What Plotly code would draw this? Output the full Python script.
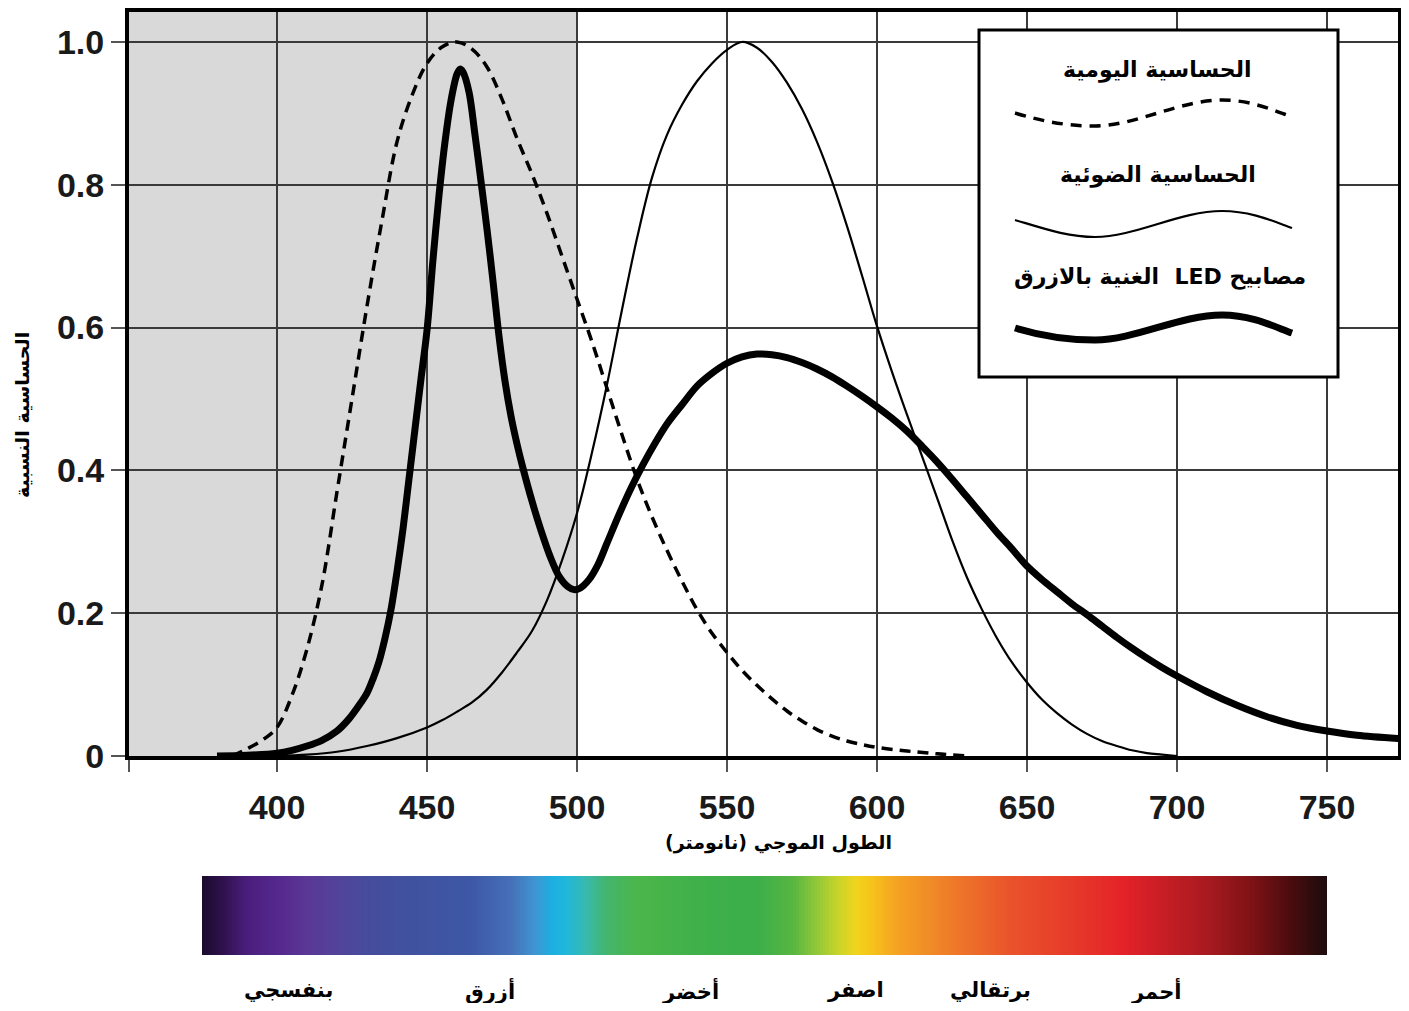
import numpy as np
import plotly.graph_objects as go

# ---------------- data ----------------
# "Daily sensitivity" (dashed)
wl_dash = [385, 390, 395, 400, 405, 410, 415, 420, 425, 430, 435, 440, 445, 450, 455, 460,
           465, 470, 475, 480, 485, 490, 495, 500, 505, 510, 515, 520, 525, 530, 535, 540,
           545, 550, 555, 560, 565, 570, 575, 580, 585, 590, 595, 600, 610, 620, 630]
val_dash = [0.0, 0.01, 0.022, 0.04, 0.085, 0.15, 0.24, 0.37, 0.50, 0.63, 0.75, 0.86,
            0.925, 0.97, 0.993, 1.0, 0.99, 0.965, 0.92, 0.865, 0.815, 0.76, 0.70, 0.64,
            0.58, 0.515, 0.45, 0.388, 0.335, 0.288, 0.245, 0.205, 0.172, 0.145, 0.12, 0.099,
            0.08, 0.063, 0.049, 0.037, 0.028, 0.021, 0.016, 0.012, 0.007, 0.003, 0.0]

# Photopic sensitivity (thin)
wl_thin = [400, 410, 420, 430, 440, 450, 455, 460, 465, 470, 475, 480, 485, 490, 495, 500,
           505, 510, 515, 520, 525, 530, 535, 540, 545, 550, 555, 560, 565, 570, 575, 580,
           585, 590, 595, 600, 605, 610, 615, 620, 625, 630, 635, 640, 645, 650, 655, 660,
           665, 670, 675, 680, 685, 690, 695, 700]
val_thin = [0.0, 0.002, 0.006, 0.014, 0.025, 0.04, 0.05, 0.062, 0.075, 0.093, 0.117, 0.145,
            0.175, 0.218, 0.274, 0.34, 0.425, 0.52, 0.625, 0.725, 0.81, 0.87, 0.912, 0.945,
            0.97, 0.989, 1.0, 0.992, 0.972, 0.943, 0.906, 0.86, 0.805, 0.742, 0.673, 0.602,
            0.538, 0.478, 0.42, 0.362, 0.303, 0.25, 0.205, 0.165, 0.131, 0.103, 0.079, 0.06,
            0.044, 0.031, 0.021, 0.014, 0.008, 0.004, 0.002, 0.0]

# Blue-rich LED spectrum (thick)
wl_led = [380, 390, 400, 405, 410, 415, 420, 424, 428, 430, 432, 434, 436, 438, 440, 442,
          444, 446, 448, 450, 452, 454, 456, 458, 460, 461, 462, 464, 466, 468, 470, 472,
          474, 476, 478, 480, 482, 485, 488, 491, 494, 497, 499, 501, 504, 507, 510, 514,
          518, 522, 526, 530, 535, 540, 545, 550, 555, 560, 565, 570, 575, 580, 585, 590,
          595, 600, 605, 610, 615, 620, 625, 630, 635, 640, 645, 650, 655, 660, 665, 670,
          675, 680, 685, 690, 695, 700, 710, 720, 730, 740, 750, 760, 775]
val_led = [0.0, 0.001, 0.004, 0.008, 0.014, 0.022, 0.035, 0.052, 0.075, 0.088, 0.108, 0.132,
           0.165, 0.205, 0.258, 0.318, 0.388, 0.458, 0.528, 0.596, 0.695, 0.785, 0.86, 0.918,
           0.955, 0.962, 0.958, 0.93, 0.87, 0.805, 0.738, 0.665, 0.588, 0.525, 0.476, 0.437,
           0.403, 0.357, 0.316, 0.28, 0.252, 0.237, 0.233, 0.235, 0.247, 0.268, 0.298, 0.338,
           0.375, 0.408, 0.438, 0.465, 0.492, 0.518, 0.536, 0.55, 0.559, 0.563, 0.562, 0.558,
           0.551, 0.542, 0.531, 0.518, 0.504, 0.489, 0.473, 0.455, 0.434, 0.412, 0.388, 0.363,
           0.338, 0.313, 0.29, 0.266, 0.247, 0.23, 0.213, 0.198, 0.182, 0.166, 0.151, 0.137,
           0.124, 0.112, 0.09, 0.071, 0.055, 0.043, 0.035, 0.029, 0.024]

x_range = [350.67, 773.67]
y_range = [0, 1.042]
x_ticks = [350.67, 400, 450, 500, 550, 600, 650, 700, 750]
x_tick_text = ["", "400", "450", "500", "550", "600", "650", "700", "750"]
y_ticks = [0, 0.2, 0.4, 0.6, 0.8, 1.0]
y_tick_text = ["0", "0.2", "0.4", "0.6", "0.8", "1.0"]

shade_range = [350.67, 500]

# spectrum colour bar (wavelength stops, colours)
spec_wl = [375, 381, 390, 400, 410, 420, 430, 445, 465, 478, 486, 492, 497, 503, 510, 520,
           540, 560, 572, 580, 587, 593, 598, 606, 618, 630, 645, 665, 682, 695, 710, 725,
           738, 750]
spec_col = ["#1a0a2c", "#2c1048", "#4a1e7c", "#55278e", "#5a3796", "#534399", "#464c9c",
            "#3f52a0", "#3e58a6", "#4670b8", "#3f95d2", "#1bb0e2", "#22b8d8", "#38b9ad",
            "#44b56c", "#4bb64a", "#3fb04a", "#3cae4a", "#58b642", "#92c838", "#c8d42a",
            "#f0d41c", "#f6c41a", "#f5a422", "#f08a28", "#ed702a", "#e9522b", "#e63a2a",
            "#e42228", "#c81e25", "#a81a20", "#7e1216", "#4a0c0e", "#1c0c0e"]

color_names = ["بنفسجي", "أزرق", "أخضر", "اصفر", "برتقالي", "أحمر"]
color_name_wl = [404, 471, 538, 593, 638, 693]

legend_names = ["الحساسية اليومية", "الحساسية الضوئية", "مصابيح LED  الغنية بالازرق"]
x_title = "الطول الموجي (نانومتر)"
y_title = "الحساسية النسبية"

# ---------------- layout helpers ----------------
# The page body has an 8px margin, so the figure is laid out in window pixels minus 8.
OFF = 8
FIG_W, FIG_H = 1393, 995
M_L, M_R, M_T, M_B = 121, 3, 4, 12
PW = FIG_W - M_L - M_R
PH = FIG_H - M_T - M_B


def px(wx):
    return (wx - OFF - M_L) / PW


def py(wy):
    return (FIG_H - M_B - (wy - OFF)) / PH


RLE, PDF = "\u202b", "\u202c"


def rtl(s):
    return RLE + s + PDF


AR_FONT = "DejaVu Sans"
NUM_FONT = "Liberation Sans"

fig = go.Figure()

fig.add_trace(go.Scatter(x=wl_dash, y=val_dash, mode="lines",
                         line=dict(color="black", width=3.5, dash="11px,7px", shape="spline", smoothing=1.0),
                         showlegend=False, hoverinfo="skip"))
fig.add_trace(go.Scatter(x=wl_thin, y=val_thin, mode="lines",
                         line=dict(color="black", width=2.2, shape="spline", smoothing=1.0),
                         showlegend=False, hoverinfo="skip"))
fig.add_trace(go.Scatter(x=wl_led, y=val_led, mode="lines",
                         line=dict(color="black", width=7, shape="spline", smoothing=0.9),
                         showlegend=False, hoverinfo="skip"))

# spectrum bar as heatmap on its own axes
lo, hi = spec_wl[0], spec_wl[-1]
edges = np.arange(lo, hi + 1, 1)
mids = (edges[:-1] + edges[1:]) / 2
cscale = [[(w - lo) / (hi - lo), c] for w, c in zip(spec_wl, spec_col)]
fig.add_trace(go.Heatmap(x=edges, y=[0, 1], z=[mids], colorscale=cscale, zmin=lo, zmax=hi,
                         showscale=False, xaxis="x2", yaxis="y2", hoverinfo="skip"))

main_y_bottom = py(756)

fig.update_layout(
    width=FIG_W, height=FIG_H,
    margin=dict(l=M_L, r=M_R, t=M_T, b=M_B, autoexpand=False),
    paper_bgcolor="white", plot_bgcolor="white",
    showlegend=False,
    xaxis=dict(range=x_range, tickvals=x_ticks, ticktext=x_tick_text, automargin=False,
               showgrid=True, gridcolor="#3a3a3a", gridwidth=1.5,
               showline=True, linecolor="black", linewidth=4, mirror=True,
               ticks="outside", ticklen=12, tickwidth=2, tickcolor="#555",
               ticklabelstandoff=6,
               tickfont=dict(family=NUM_FONT, size=34, color="#1a1a1a", weight="bold"),
               zeroline=False, anchor="y"),
    yaxis=dict(range=y_range, tickvals=y_ticks, ticktext=y_tick_text, domain=[main_y_bottom, 1],
               automargin=False,
               showgrid=True, gridcolor="#3a3a3a", gridwidth=1.5,
               showline=True, linecolor="black", linewidth=4, mirror=True,
               ticks="outside", ticklen=14, tickwidth=2, tickcolor="#555",
               tickfont=dict(family=NUM_FONT, size=34, color="#1a1a1a", weight="bold"),
               zeroline=False, anchor="x"),
    xaxis2=dict(range=x_range, domain=[0, 1], anchor="y2", visible=False, showgrid=False,
                automargin=False),
    yaxis2=dict(range=[0, 1], domain=[py(955), py(876)], anchor="x2", visible=False, showgrid=False,
                automargin=False),
)

shapes = []
# gray shaded band
shapes.append(dict(type="rect", xref="x", yref="y", x0=shade_range[0], x1=shade_range[1],
                   y0=y_range[0], y1=y_range[1], fillcolor="#d9d9d9", line=dict(width=0), layer="below"))
# legend box
shapes.append(dict(type="rect", xref="paper", yref="paper", x0=px(979), x1=px(1338),
                   y0=py(377), y1=py(30), fillcolor="white",
                   line=dict(color="black", width=3), layer="above"))


def wave(ys, ylow, yhigh, yend):
    pts = [(1015, ys), (1045, ys + 9), (1068, ylow), (1095, ylow),
           (1135, ylow), (1180, yhigh), (1222, yhigh),
           (1252, yhigh), (1275, yend - 6), (1292, yend)]
    p = [f"{px(a):.5f},{py(b):.5f}" for a, b in pts]
    return f"M {p[0]} C {p[1]} {p[2]} {p[3]} C {p[4]} {p[5]} {p[6]} C {p[7]} {p[8]} {p[9]}"


shapes.append(dict(type="path", xref="paper", yref="paper", path=wave(113, 126, 100, 117),
                   line=dict(color="black", width=3.5, dash="11px,8px"), layer="above"))
shapes.append(dict(type="path", xref="paper", yref="paper", path=wave(220, 237, 211, 228),
                   line=dict(color="black", width=2.2), layer="above"))
shapes.append(dict(type="path", xref="paper", yref="paper", path=wave(328, 340, 315, 333),
                   line=dict(color="black", width=7), layer="above"))
fig.update_layout(shapes=shapes)

ann = []
legend_pos = [(1157, 70), (1158, 175), (1160, 277)]
for name, (ax_, ay_) in zip(legend_names, legend_pos):
    ann.append(dict(text=rtl(name), xref="paper", yref="paper", x=px(ax_), y=py(ay_),
                    showarrow=False, xanchor="center", yanchor="middle",
                    font=dict(family=AR_FONT, size=22, color="black", weight="bold")))

ann.append(dict(text=rtl(x_title), xref="paper", yref="paper", x=px(778), y=py(842),
                showarrow=False, xanchor="center", yanchor="middle",
                font=dict(family=AR_FONT, size=19, color="black", weight="bold")))
ann.append(dict(text=rtl(y_title), xref="paper", yref="paper", x=px(22), y=py(415),
                showarrow=False, xanchor="center", yanchor="middle", textangle=-90,
                font=dict(family=AR_FONT, size=19, color="black", weight="bold")))
for name, w in zip(color_names, color_name_wl):
    ann.append(dict(text=rtl(name), xref="x2", yref="paper", x=w, y=py(990),
                    showarrow=False, xanchor="center", yanchor="middle",
                    font=dict(family=AR_FONT, size=21, color="black", weight="bold")))
fig.update_layout(annotations=ann)

fig.write_html("out.html")
